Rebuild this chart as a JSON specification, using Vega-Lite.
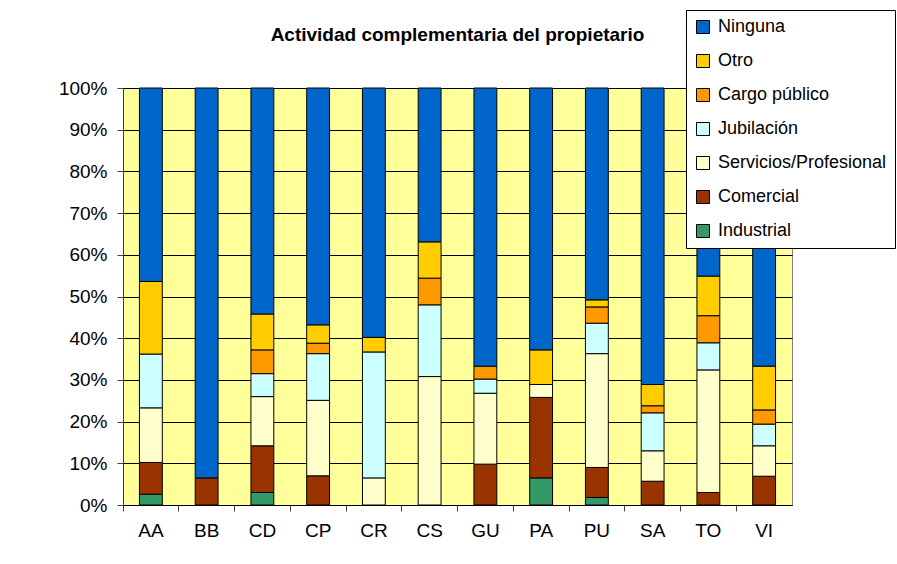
{
  "$schema": "https://vega.github.io/schema/vega-lite/v6.json",
  "width": 669,
  "height": 417,
  "autosize": {"type": "none"},
  "padding": {"left": 123, "top": 88, "right": 105, "bottom": 59},
  "background": "white",
  "config": {
    "font": "Liberation Sans",
    "view": {"fill": "#FFFF99", "stroke": "#808080", "strokeWidth": 1}
  },
  "title": {
    "text": "Actividad complementaria del propietario",
    "font": "Liberation Sans",
    "fontSize": 19,
    "fontWeight": "bold",
    "color": "black",
    "anchor": "middle",
    "offset": -35
  },
  "data": {
    "values": [
      {"r": "AA", "c": "Industrial", "v": 2.6, "k": 1},
      {"r": "AA", "c": "Comercial", "v": 7.6, "k": 2},
      {"r": "AA", "c": "Servicios/Profesional", "v": 13.1, "k": 3},
      {"r": "AA", "c": "Jubilación", "v": 12.9, "k": 4},
      {"r": "AA", "c": "Otro", "v": 17.4, "k": 6},
      {"r": "AA", "c": "Ninguna", "v": 46.4, "k": 7},
      {"r": "BB", "c": "Comercial", "v": 6.5, "k": 2},
      {"r": "BB", "c": "Ninguna", "v": 93.5, "k": 7},
      {"r": "CD", "c": "Industrial", "v": 3.0, "k": 1},
      {"r": "CD", "c": "Comercial", "v": 11.2, "k": 2},
      {"r": "CD", "c": "Servicios/Profesional", "v": 11.8, "k": 3},
      {"r": "CD", "c": "Jubilación", "v": 5.5, "k": 4},
      {"r": "CD", "c": "Cargo público", "v": 5.7, "k": 5},
      {"r": "CD", "c": "Otro", "v": 8.6, "k": 6},
      {"r": "CD", "c": "Ninguna", "v": 54.2, "k": 7},
      {"r": "CP", "c": "Comercial", "v": 7.0, "k": 2},
      {"r": "CP", "c": "Servicios/Profesional", "v": 18.1, "k": 3},
      {"r": "CP", "c": "Jubilación", "v": 11.2, "k": 4},
      {"r": "CP", "c": "Cargo público", "v": 2.5, "k": 5},
      {"r": "CP", "c": "Otro", "v": 4.4, "k": 6},
      {"r": "CP", "c": "Ninguna", "v": 56.8, "k": 7},
      {"r": "CR", "c": "Servicios/Profesional", "v": 6.5, "k": 3},
      {"r": "CR", "c": "Jubilación", "v": 30.2, "k": 4},
      {"r": "CR", "c": "Otro", "v": 3.5, "k": 6},
      {"r": "CR", "c": "Ninguna", "v": 59.8, "k": 7},
      {"r": "CS", "c": "Servicios/Profesional", "v": 30.8, "k": 3},
      {"r": "CS", "c": "Jubilación", "v": 17.2, "k": 4},
      {"r": "CS", "c": "Cargo público", "v": 6.4, "k": 5},
      {"r": "CS", "c": "Otro", "v": 8.7, "k": 6},
      {"r": "CS", "c": "Ninguna", "v": 36.9, "k": 7},
      {"r": "GU", "c": "Comercial", "v": 9.8, "k": 2},
      {"r": "GU", "c": "Servicios/Profesional", "v": 17.0, "k": 3},
      {"r": "GU", "c": "Jubilación", "v": 3.4, "k": 4},
      {"r": "GU", "c": "Cargo público", "v": 3.1, "k": 5},
      {"r": "GU", "c": "Ninguna", "v": 66.7, "k": 7},
      {"r": "PA", "c": "Industrial", "v": 6.5, "k": 1},
      {"r": "PA", "c": "Comercial", "v": 19.3, "k": 2},
      {"r": "PA", "c": "Servicios/Profesional", "v": 3.1, "k": 3},
      {"r": "PA", "c": "Otro", "v": 8.3, "k": 6},
      {"r": "PA", "c": "Ninguna", "v": 62.8, "k": 7},
      {"r": "PU", "c": "Industrial", "v": 1.8, "k": 1},
      {"r": "PU", "c": "Comercial", "v": 7.2, "k": 2},
      {"r": "PU", "c": "Servicios/Profesional", "v": 27.3, "k": 3},
      {"r": "PU", "c": "Jubilación", "v": 7.3, "k": 4},
      {"r": "PU", "c": "Cargo público", "v": 3.9, "k": 5},
      {"r": "PU", "c": "Otro", "v": 1.7, "k": 6},
      {"r": "PU", "c": "Ninguna", "v": 50.8, "k": 7},
      {"r": "SA", "c": "Comercial", "v": 5.7, "k": 2},
      {"r": "SA", "c": "Servicios/Profesional", "v": 7.3, "k": 3},
      {"r": "SA", "c": "Jubilación", "v": 9.1, "k": 4},
      {"r": "SA", "c": "Cargo público", "v": 1.7, "k": 5},
      {"r": "SA", "c": "Otro", "v": 5.1, "k": 6},
      {"r": "SA", "c": "Ninguna", "v": 71.1, "k": 7},
      {"r": "TO", "c": "Comercial", "v": 3.0, "k": 2},
      {"r": "TO", "c": "Servicios/Profesional", "v": 29.4, "k": 3},
      {"r": "TO", "c": "Jubilación", "v": 6.5, "k": 4},
      {"r": "TO", "c": "Cargo público", "v": 6.5, "k": 5},
      {"r": "TO", "c": "Otro", "v": 9.5, "k": 6},
      {"r": "TO", "c": "Ninguna", "v": 45.1, "k": 7},
      {"r": "VI", "c": "Comercial", "v": 6.9, "k": 2},
      {"r": "VI", "c": "Servicios/Profesional", "v": 7.3, "k": 3},
      {"r": "VI", "c": "Jubilación", "v": 5.2, "k": 4},
      {"r": "VI", "c": "Cargo público", "v": 3.4, "k": 5},
      {"r": "VI", "c": "Otro", "v": 10.5, "k": 6},
      {"r": "VI", "c": "Ninguna", "v": 66.7, "k": 7}
    ]
  },
  "mark": {"type": "bar", "stroke": "black", "strokeWidth": 1, "width": {"band": 0.41}},
  "encoding": {
    "x": {
      "field": "r",
      "type": "nominal",
      "scale": {"paddingInner": 0, "paddingOuter": 0},
      "axis": {
        "title": null,
        "labelAngle": 0,
        "labelFontSize": 19,
        "labelColor": "black",
        "labelPadding": 10,
        "bandPosition": 0,
        "tickSize": 6,
        "tickColor": "#404040",
        "domainColor": "black",
        "grid": false
      }
    },
    "y": {
      "field": "v",
      "type": "quantitative",
      "stack": true,
      "scale": {"domain": [0, 100], "nice": false},
      "axis": {
        "title": null,
        "values": [0, 10, 20, 30, 40, 50, 60, 70, 80, 90, 100],
        "labelExpr": "datum.value + '%'",
        "labelFontSize": 19,
        "labelColor": "black",
        "labelPadding": 10,
        "tickSize": 6,
        "tickColor": "#404040",
        "domainColor": "#404040",
        "grid": true,
        "gridColor": "black",
        "gridOpacity": 1,
        "gridWidth": 1
      }
    },
    "order": {"field": "k", "type": "quantitative"},
    "color": {
      "field": "c",
      "type": "nominal",
      "scale": {
        "domain": ["Ninguna", "Otro", "Cargo público", "Jubilación", "Servicios/Profesional", "Comercial", "Industrial"],
        "range": ["#0066CC", "#FFCC00", "#FF9900", "#CCFFFF", "#FFFFCC", "#993300", "#339966"]
      },
      "legend": {
        "title": null,
        "orient": "none",
        "legendX": 563,
        "legendY": -78,
        "fillColor": "white",
        "strokeColor": "black",
        "padding": 8,
        "symbolType": "square",
        "symbolSize": 169,
        "symbolStrokeColor": "black",
        "symbolStrokeWidth": 1,
        "labelFontSize": 18,
        "labelColor": "black",
        "labelOffset": 6,
        "labelLimit": 400,
        "rowPadding": 16
      }
    }
  }
}
